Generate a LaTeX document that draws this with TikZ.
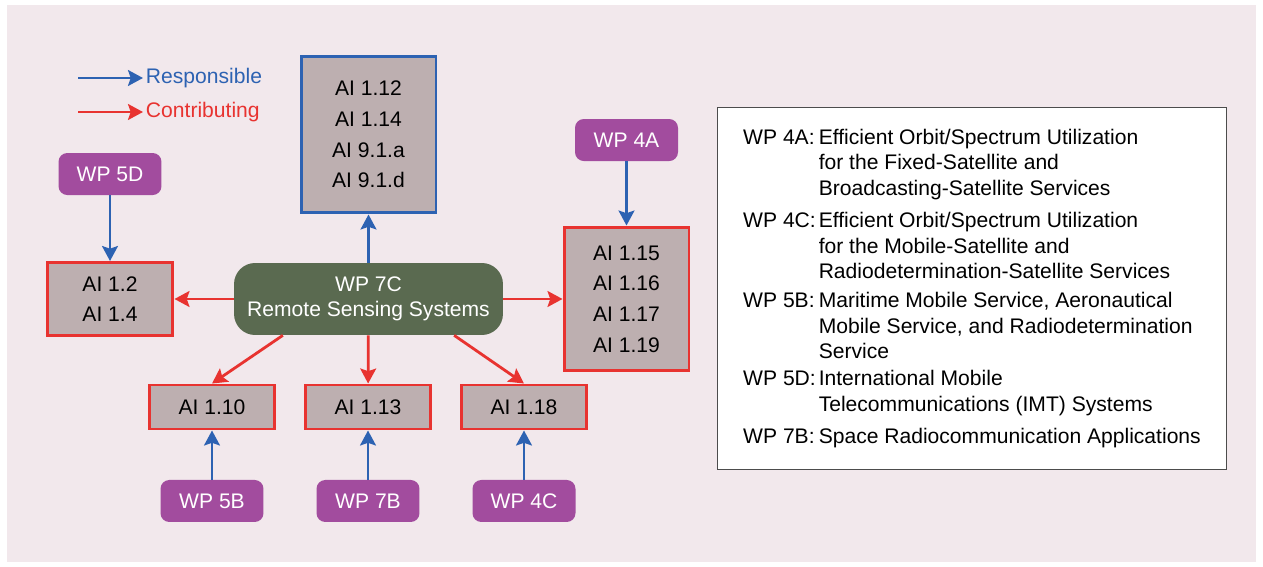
\documentclass[tikz,border=0pt]{standalone}
\usepackage{fontspec}
\setmainfont{Liberation Sans}
\usetikzlibrary{arrows.meta}
\definecolor{panelpink}{HTML}{F2E8EC}
\definecolor{aifill}{HTML}{BDAFB0}
\definecolor{respblue}{HTML}{2D62B2}
\definecolor{contribred}{HTML}{E83330}
\definecolor{wppurple}{HTML}{A24C9E}
\definecolor{wcgreen}{HTML}{5A6A50}

\begin{document}
\begin{tikzpicture}[x=0.02cm, y=-0.02cm, font=\fontsize{12}{17.4}\selectfont,
    aibox/.style = {draw, fill=aifill, line width=1.7pt, align=center, inner sep=0pt},
    wp/.style = {fill=wppurple, text=white, rounded corners=5pt, minimum width=2.06cm, minimum height=0.84cm, inner sep=0pt},
    resp/.style = {draw=respblue, line width=1.6pt, -{Stealth[length=8.5pt,width=9pt,inset=1.5pt]}},
    contrib/.style = {draw=contribred, line width=1.6pt, -{Stealth[length=8.5pt,width=9pt,inset=1.5pt]}}]
    \useasboundingbox (0,0) rectangle (1263,567);
    \fill[panelpink] (7,5) rectangle (1256,562);
    % legend
    \coordinate (respstart) at (78,78);
    \coordinate (contribstart) at (78,112);
    \node[text=respblue, anchor=west, inner sep=1.5pt] (resptext) at (143,78) {Responsible};
    \node[text=contribred, anchor=west, inner sep=1.5pt] (contribtext) at (143,112) {Contributing};
    \draw[resp] (respstart) -- (resptext);
    \draw[contrib] (contribstart) -- (contribtext);
    % centre and agenda items
    \node[fill=wcgreen, text=white, rounded corners=12pt, minimum width=5.38cm, minimum height=1.44cm, align=center, font=\fontsize{12}{14.5}\selectfont] (wp7c) at (368.5,299) {WP 7C\\Remote Sensing Systems};
    \node[aibox, draw=respblue, minimum width=2.7cm, minimum height=3.14cm] (aitop) at (368.5,134.5) {AI 1.12\\AI 1.14\\AI 9.1.a\\AI 9.1.d};
    \node[aibox, draw=contribred, minimum width=2.52cm, minimum height=1.46cm] (ai12) at (110,299) {AI 1.2\\AI 1.4};
    \node[aibox, draw=contribred, minimum width=2.5cm, minimum height=2.88cm] (air) at (626.5,299) {AI 1.15\\AI 1.16\\AI 1.17\\AI 1.19};
    \node[aibox, draw=contribred, minimum width=2.5cm, minimum height=0.88cm] (ai110) at (212,407) {AI 1.10};
    \node[aibox, draw=contribred, minimum width=2.5cm, minimum height=0.88cm] (ai113) at (368,407) {AI 1.13};
    \node[aibox, draw=contribred, minimum width=2.5cm, minimum height=0.88cm] (ai118) at (524,407) {AI 1.18};
    % working parties
    \node[wp, above of=ai12, node distance=2.5cm] (wp5d) {WP 5D};
    \node[wp, above of=air, node distance=3.18cm] (wp4a) {WP 4A};
    \node[wp, below of=ai110, node distance=1.88cm] (wp5b) {WP 5B};
    \node[wp, below of=ai113, node distance=1.88cm] (wp7b) {WP 7B};
    \node[wp, below of=ai118, node distance=1.88cm] (wp4c) {WP 4C};
    \draw[resp] (wp5d) -- (ai12);
    \draw[resp] (wp4a) -- (air);
    \draw[resp] (wp5b) -- (ai110);
    \draw[resp] (wp7b) -- (ai113);
    \draw[resp] (wp4c) -- (ai118);
    \draw[resp] (wp7c) -- (aitop);
    \draw[contrib] (wp7c) -- (ai12);
    \draw[contrib] (wp7c) -- (air);
    \draw[contrib] (wp7c.203) -- (ai110.north);
    \draw[contrib] (wp7c) -- (ai113);
    \draw[contrib] (wp7c.337) -- (ai118.north);
    % list of working parties
    \node[draw=black!70, fill=white, line width=0.6pt, minimum width=10.2cm, minimum height=7.26cm, font=\fontsize{12}{14.5}\selectfont] (wplist) at (972,288.5) {%
      \begin{tabular}{@{}p{43pt}@{}l@{}}
        WP 4A: & Efficient Orbit/Spectrum Utilization\\
               & for the Fixed-Satellite and\\
               & Broadcasting-Satellite Services\\[4.2pt]
        WP 4C: & Efficient Orbit/Spectrum Utilization\\
               & for the Mobile-Satellite and\\
               & Radiodetermination-Satellite Services\\[2pt]
        WP 5B: & Maritime Mobile Service, Aeronautical\\
               & Mobile Service, and Radiodetermination\\
               & Service\\[0.8pt]
        WP 5D: & International Mobile\\
               & Telecommunications (IMT) Systems\\[3.6pt]
        WP 7B: & Space Radiocommunication Applications
      \end{tabular}};
\end{tikzpicture}
\end{document}
